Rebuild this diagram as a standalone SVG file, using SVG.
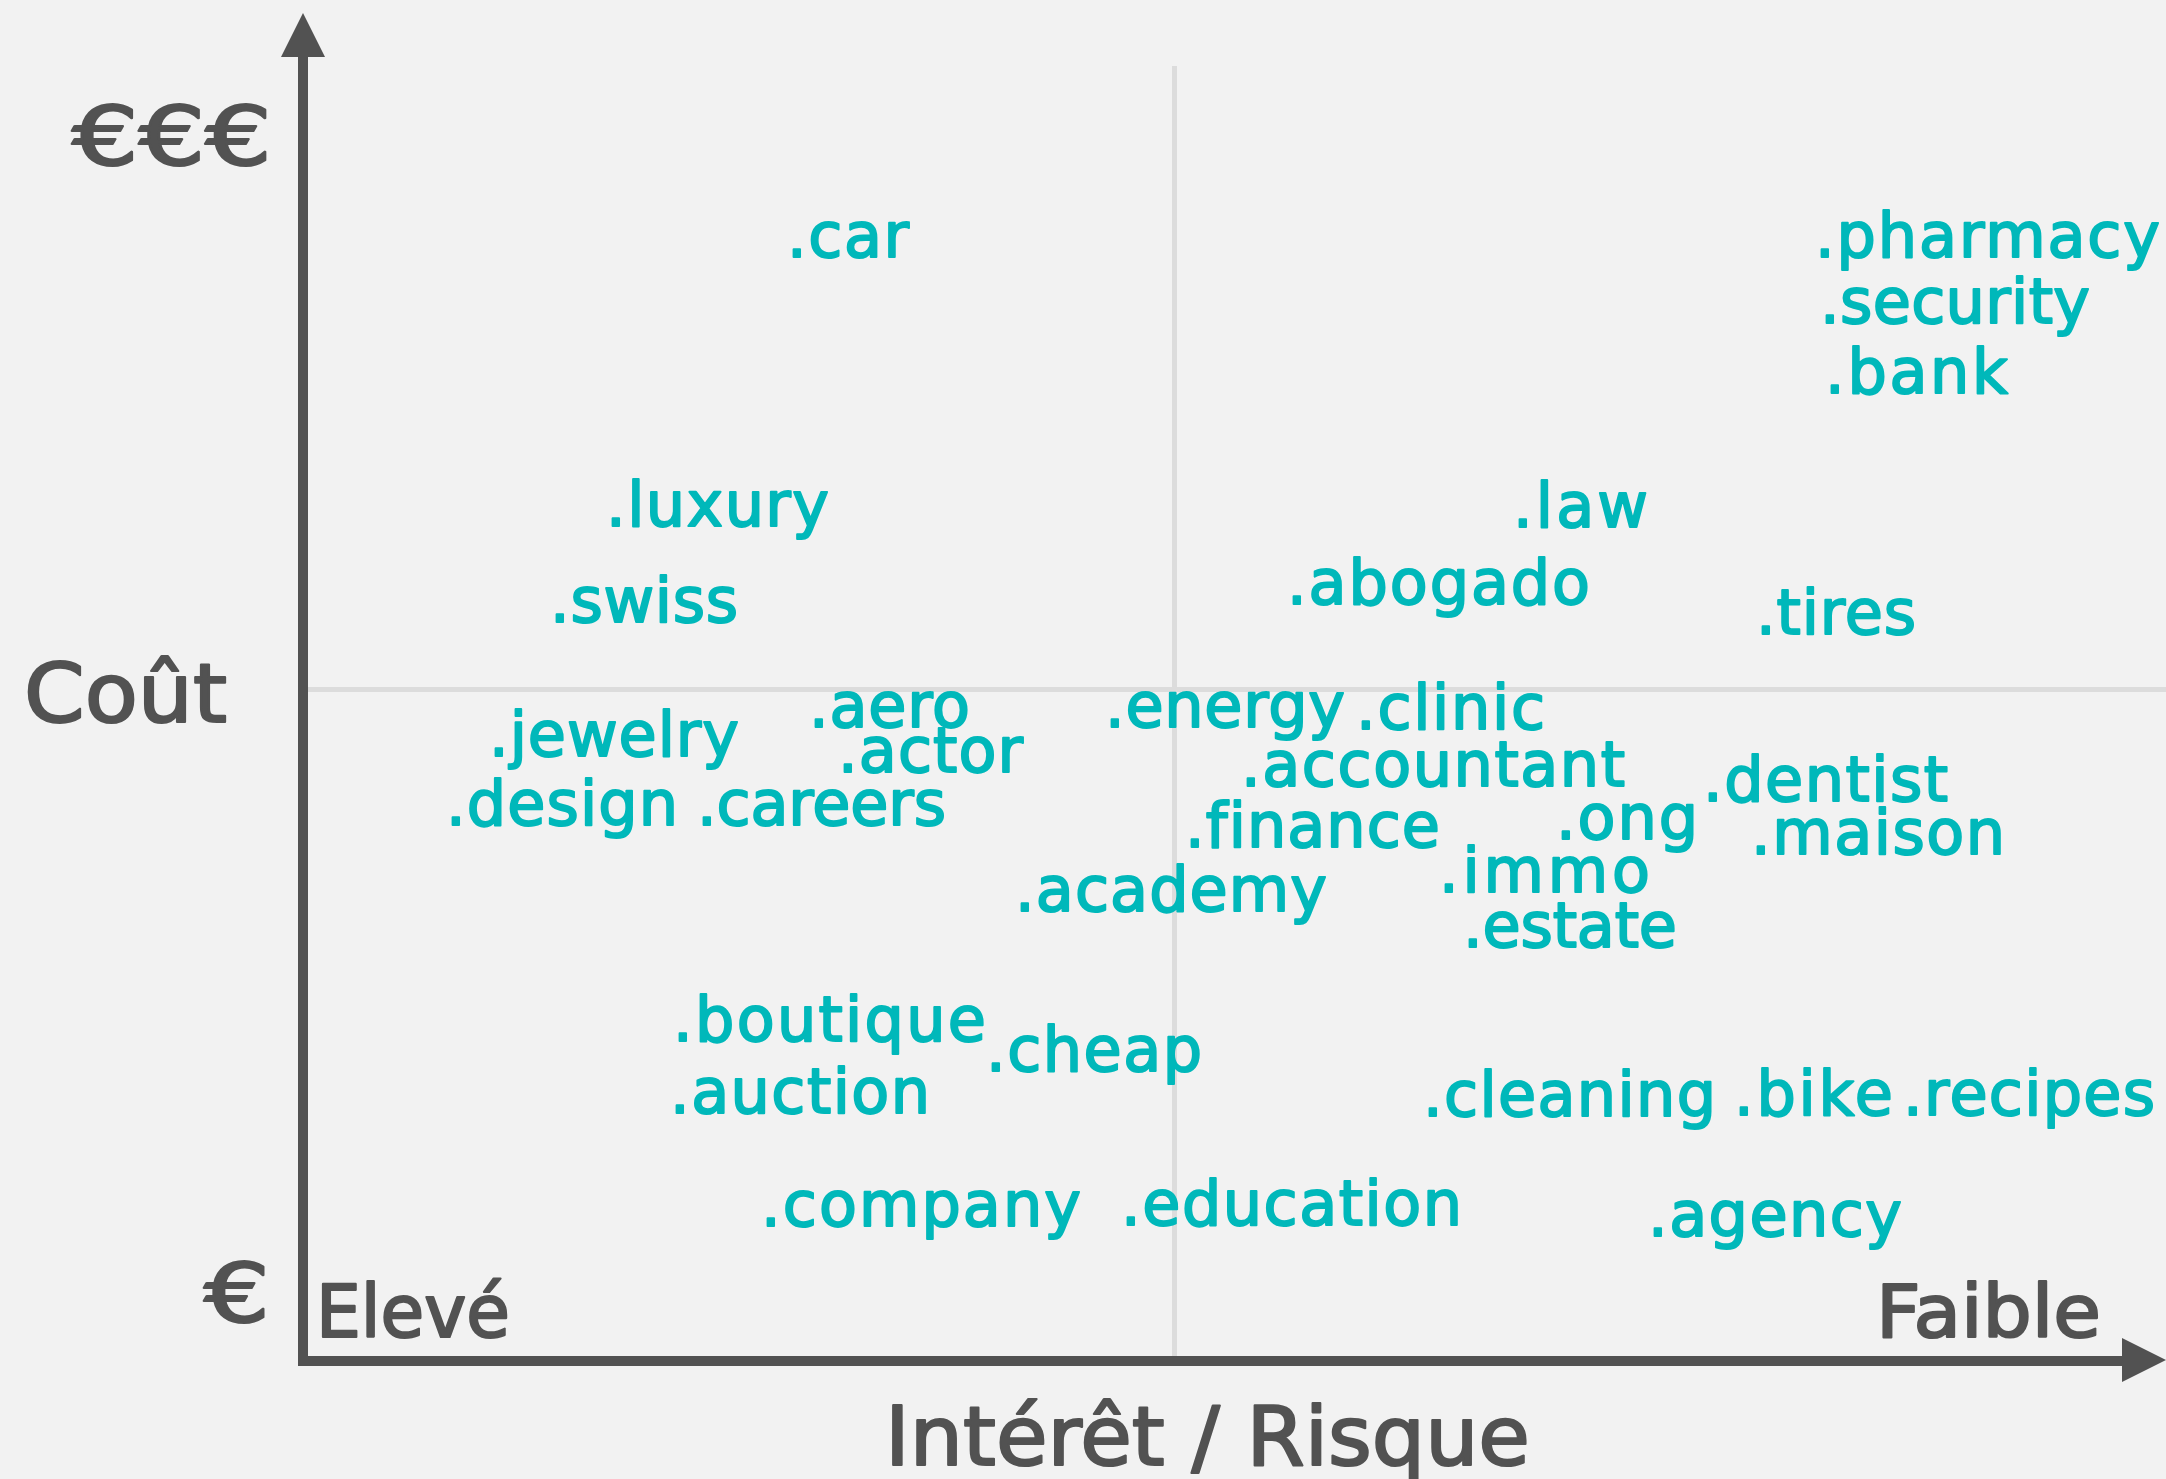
<svg xmlns="http://www.w3.org/2000/svg" width="2166" height="1479" viewBox="0 0 2166 1479">
  <style>
    text { font-variant-ligatures: none; stroke-linejoin: round; }
    .tld { font-family: "DejaVu Sans", "Liberation Sans", sans-serif; font-size: 62px; fill: #00b8ba; stroke: #00b8ba; stroke-width: 2; }
    .axis-label { font-family: "DejaVu Sans", "Liberation Sans", sans-serif; fill: #525252; stroke: #525252; stroke-width: 2.2; }
    .grid { stroke: #dcdcdc; stroke-width: 5; }
    .axis { stroke: #525252; stroke-width: 10; }
    .head { fill: #525252; }
  </style>
  <rect x="0" y="0" width="2166" height="1479" fill="#f2f2f2"/>

  <!-- quadrant grid -->
  <g id="grid">
    <line class="grid" x1="1174.5" y1="66" x2="1174.5" y2="1356"/>
    <line class="grid" x1="308" y1="689.5" x2="2166" y2="689.5"/>
  </g>

  <!-- axes -->
  <g id="axes">
    <line class="axis" x1="303" y1="55" x2="303" y2="1366"/>
    <line class="axis" x1="298" y1="1361" x2="2124" y2="1361"/>
    <polygon class="head" points="303,13 281,57 325,57"/>
    <polygon class="head" points="2166,1360 2122,1338 2122,1382"/>
  </g>

  <!-- axis titles and scale labels -->
  <g id="axis-labels">
    <text class="axis-label" x="72" y="165" font-size="82" textLength="200" lengthAdjust="spacingAndGlyphs">€€€</text>
    <text class="axis-label" x="24" y="722" font-size="82" textLength="203" lengthAdjust="spacingAndGlyphs">Coût</text>
    <text class="axis-label" x="204" y="1322" font-size="82" textLength="66" lengthAdjust="spacingAndGlyphs">€</text>
    <text class="axis-label" x="316" y="1337" font-size="73" textLength="194" lengthAdjust="spacingAndGlyphs">Elevé</text>
    <text class="axis-label" x="1876" y="1337" font-size="73" textLength="225" lengthAdjust="spacingAndGlyphs">Faible</text>
    <text class="axis-label" x="885" y="1465" font-size="82" textLength="645" lengthAdjust="spacingAndGlyphs">Intérêt / Risque</text>
  </g>

  <!-- domain extensions -->
  <g id="car"><text class="tld" x="787" y="257" textLength="122">.car</text></g>
  <g id="pharmacy"><text class="tld" x="1815" y="257" textLength="345">.pharmacy</text></g>
  <g id="security"><text class="tld" x="1820" y="323" textLength="270">.security</text></g>
  <g id="bank"><text class="tld" x="1825" y="393" textLength="183">.bank</text></g>
  <g id="luxury"><text class="tld" x="606" y="526" textLength="223">.luxury</text></g>
  <g id="law"><text class="tld" x="1513" y="527" textLength="135">.law</text></g>
  <g id="swiss"><text class="tld" x="550" y="622" textLength="188">.swiss</text></g>
  <g id="abogado"><text class="tld" x="1287" y="604" textLength="303">.abogado</text></g>
  <g id="tires"><text class="tld" x="1756" y="634" textLength="160">.tires</text></g>
  <g id="aero"><text class="tld" x="809" y="727" textLength="161">.aero</text></g>
  <g id="energy"><text class="tld" x="1105" y="727" textLength="240">.energy</text></g>
  <g id="clinic"><text class="tld" x="1356" y="729" textLength="189">.clinic</text></g>
  <g id="jewelry"><text class="tld" x="489" y="756" textLength="250">.jewelry</text></g>
  <g id="actor"><text class="tld" x="838" y="772" textLength="185">.actor</text></g>
  <g id="accountant"><text class="tld" x="1241" y="786" textLength="384">.accountant</text></g>
  <g id="dentist"><text class="tld" x="1703" y="801" textLength="245">.dentist</text></g>
  <g id="design"><text class="tld" x="446" y="825" textLength="232">.design</text></g>
  <g id="careers"><text class="tld" x="697" y="825" textLength="249">.careers</text></g>
  <g id="finance"><text class="tld" x="1185" y="847" textLength="255">.finance</text></g>
  <g id="ong"><text class="tld" x="1556" y="839" textLength="142">.ong</text></g>
  <g id="maison"><text class="tld" x="1751" y="854" textLength="254">.maison</text></g>
  <g id="immo"><text class="tld" x="1439" y="892" textLength="211">.immo</text></g>
  <g id="academy"><text class="tld" x="1015" y="911" textLength="312">.academy</text></g>
  <g id="estate"><text class="tld" x="1463" y="947" textLength="214">.estate</text></g>
  <g id="boutique"><text class="tld" x="673" y="1041" textLength="313">.boutique</text></g>
  <g id="cheap"><text class="tld" x="986" y="1071" textLength="216">.cheap</text></g>
  <g id="auction"><text class="tld" x="670" y="1113" textLength="260">.auction</text></g>
  <g id="cleaning"><text class="tld" x="1423" y="1116" textLength="293">.cleaning</text></g>
  <g id="bike"><text class="tld" x="1734" y="1115" textLength="159">.bike</text></g>
  <g id="recipes"><text class="tld" x="1903" y="1115" textLength="252">.recipes</text></g>
  <g id="company"><text class="tld" x="761" y="1226" textLength="320">.company</text></g>
  <g id="education"><text class="tld" x="1121" y="1225" textLength="341">.education</text></g>
  <g id="agency"><text class="tld" x="1648" y="1236" textLength="254">.agency</text></g>
</svg>
